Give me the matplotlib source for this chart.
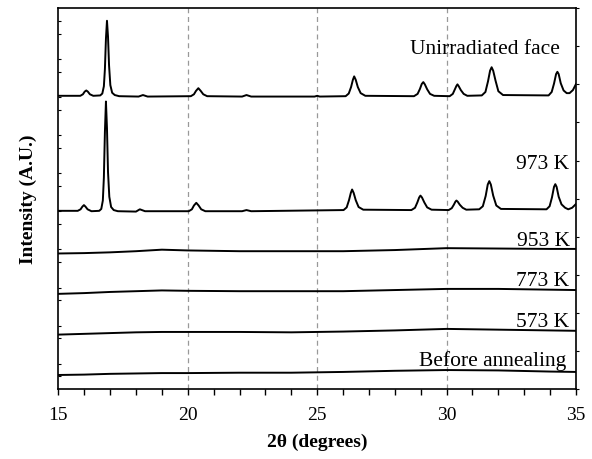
import matplotlib
matplotlib.use("Agg")
import matplotlib.pyplot as plt
from matplotlib.ticker import MultipleLocator

plt.rcParams['font.family'] = ['Liberation Serif', 'DejaVu Serif']

# ---- data (2theta in degrees, offset intensity in arbitrary units) ----
before_x = [15, 16, 17, 18, 19, 20, 22, 24, 26, 28, 30, 32, 34, 35]
before_y = [0.37, 0.38, 0.40, 0.41, 0.42, 0.42, 0.43, 0.43, 0.45, 0.48, 0.50, 0.49, 0.46, 0.45]

k573_x = [15, 16, 17, 18, 19, 20, 22, 24, 26, 28, 30, 32, 34, 35]
k573_y = [1.43, 1.45, 1.47, 1.49, 1.50, 1.50, 1.50, 1.49, 1.51, 1.54, 1.58, 1.56, 1.54, 1.53]

k773_x = [15, 16, 17, 18, 19, 20, 22, 24, 26, 28, 30, 32, 34, 35]
k773_y = [2.50, 2.52, 2.55, 2.57, 2.59, 2.58, 2.57, 2.57, 2.57, 2.60, 2.63, 2.63, 2.61, 2.60]

k953_x = [15, 16, 17, 18, 19, 20, 22, 24, 26, 28, 30, 32, 34, 35]
k953_y = [3.56, 3.57, 3.59, 3.62, 3.66, 3.64, 3.62, 3.62, 3.62, 3.65, 3.70, 3.69, 3.68, 3.68]

k973_x = [15, 15.75, 15.86, 15.93, 15.99, 16.05, 16.13, 16.28,
          16.58, 16.66, 16.72, 16.76, 16.80, 16.84, 16.88, 16.92, 16.97, 17.04, 17.14, 17.3,
          18.0, 18.15, 18.35,
          20.04, 20.16, 20.24, 20.33, 20.42, 20.52, 20.68,
          22.1, 22.27, 22.45,
          26.02, 26.14, 26.23, 26.30, 26.35, 26.41, 26.49, 26.60, 26.78,
          28.64, 28.78, 28.87, 28.94, 28.99, 29.05, 29.14, 29.25, 29.42,
          30.08, 30.20, 30.28, 30.34, 30.38, 30.43, 30.51, 30.62, 30.76,
          31.26, 31.40, 31.51, 31.59, 31.65, 31.71, 31.80, 31.92, 32.10,
          33.86, 33.98, 34.07, 34.15, 34.20, 34.25, 34.33, 34.44, 34.58, 34.70, 34.85, 35.0]
k973_y = [4.68, 4.68, 4.72, 4.79, 4.83, 4.79, 4.72, 4.67,
          4.68, 4.73, 4.95, 5.55, 6.75, 7.55, 6.85, 5.70, 5.05, 4.78, 4.70, 4.67,
          4.66, 4.72, 4.67,
          4.67, 4.72, 4.82, 4.89, 4.82, 4.72, 4.67,
          4.67, 4.70, 4.67,
          4.70, 4.77, 4.96, 5.15, 5.24, 5.15, 4.96, 4.78, 4.71,
          4.70, 4.76, 4.90, 5.03, 5.08, 5.03, 4.90, 4.77, 4.71,
          4.70, 4.75, 4.84, 4.92, 4.95, 4.92, 4.84, 4.76, 4.71,
          4.72, 4.80, 5.07, 5.37, 5.46, 5.37, 5.08, 4.82, 4.73,
          4.72, 4.80, 5.03, 5.31, 5.38, 5.31, 5.05, 4.85, 4.76, 4.72, 4.76, 4.86]

unirr_x = [15, 15.85, 15.95, 16.02, 16.08, 16.14, 16.22, 16.35,
           16.62, 16.70, 16.76, 16.80, 16.84, 16.88, 16.92, 16.96, 17.01, 17.08, 17.18, 17.35,
           18.1, 18.27, 18.45,
           20.12, 20.24, 20.32, 20.41, 20.50, 20.60, 20.75,
           22.1, 22.27, 22.45,
           24.9, 25.0, 25.1,
           26.10, 26.22, 26.31, 26.38, 26.43, 26.49, 26.57, 26.68, 26.86,
           28.74, 28.88, 28.97, 29.04, 29.10, 29.16, 29.25, 29.36, 29.52,
           30.12, 30.24, 30.32, 30.38, 30.42, 30.47, 30.55, 30.66, 30.80,
           31.36, 31.50, 31.60, 31.68, 31.74, 31.80, 31.89, 32.00, 32.18,
           33.94, 34.06, 34.15, 34.23, 34.28, 34.33, 34.41, 34.52, 34.64, 34.75, 34.88, 35.0]
unirr_y = [7.70, 7.70, 7.74, 7.81, 7.84, 7.81, 7.74, 7.70,
           7.71, 7.76, 7.95, 8.40, 9.20, 9.67, 9.25, 8.50, 7.98, 7.78, 7.72, 7.69,
           7.68, 7.72, 7.68,
           7.69, 7.74, 7.83, 7.90, 7.83, 7.74, 7.69,
           7.68, 7.72, 7.68,
           7.68, 7.70, 7.68,
           7.69, 7.76, 7.93, 8.12, 8.21, 8.12, 7.93, 7.77, 7.70,
           7.69, 7.75, 7.88, 8.01, 8.06, 8.00, 7.87, 7.75, 7.70,
           7.69, 7.75, 7.87, 7.96, 8.00, 7.95, 7.85, 7.75, 7.70,
           7.71, 7.80, 8.08, 8.36, 8.45, 8.36, 8.10, 7.82, 7.72,
           7.71, 7.80, 8.02, 8.27, 8.33, 8.27, 8.03, 7.84, 7.77, 7.77, 7.85, 8.01]

series = [
    (before_x, before_y, "Before annealing", 34.64, 0.62),
    (k573_x, k573_y, "573 K", 34.75, 1.66),
    (k773_x, k773_y, "773 K", 34.75, 2.74),
    (k953_x, k953_y, "953 K", 34.76, 3.79),
    (k973_x, k973_y, "973 K", 34.72, 5.80),
    (unirr_x, unirr_y, "Unirradiated face", 34.38, 8.82),
]

fig = plt.figure(figsize=(5.92, 4.60), dpi=100)
ax = fig.add_axes([0.0985, 0.152, 0.8745, 0.828])

for xs, ys, lab, tx, ty in series:
    ax.plot(xs, ys, color='black', lw=1.4)
    ax.text(tx, ty, lab, ha='right', va='baseline', fontsize=15.5)

ax.set_xlim(15, 35)
ax.set_ylim(0, 10)

for gx in [20, 25, 30]:
    ax.axvline(gx, color='#999999', lw=0.9, ls=(0, (4, 3)), zorder=0)

ax.xaxis.set_major_locator(MultipleLocator(5))
ax.xaxis.set_minor_locator(MultipleLocator(1))
ax.tick_params(axis='x', which='both', direction='out', length=4, width=1,
               labelsize=14, pad=8)

ax.yaxis.set_major_locator(MultipleLocator(1))
ax.yaxis.set_minor_locator(MultipleLocator(1/3))
ax.tick_params(axis='y', which='minor', direction='in', left=True, right=False, length=2, width=0.8)
ax.tick_params(axis='y', which='major', direction='out', left=False, right=True, length=2.5, width=0.8,
               labelleft=False, labelright=False)

for sp in ax.spines.values():
    sp.set_linewidth(1.2)

ax.set_xlabel('2θ (degrees)', fontsize=14, fontweight='bold', labelpad=7)
ax.set_ylabel('Intensity (A.U.)', fontsize=14, fontweight='bold', labelpad=12)

fig.savefig('out.png', dpi=100)
